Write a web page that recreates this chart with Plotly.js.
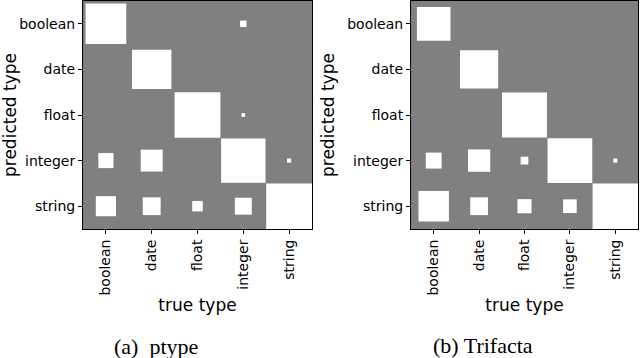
<!DOCTYPE html>
<html>
<head>
<meta charset="utf-8">
<script src="https://cdn.plot.ly/plotly-3.0.1.min.js"></script>
<style>
  html, body { margin: 0; padding: 0; background: #fff; }
  #chart { width: 640px; height: 358px; }
</style>
</head>
<body>
<div id="chart"></div>
<script>
    // type labels (rows = predicted type, columns = true type)
    var types = ['boolean', 'date', 'float', 'integer', 'string'];

    // square side as a fraction of one cell
    var ptypeSizes = [
        [0.89, 0,    0,    0.14, 0   ],
        [0,    0.86, 0,    0,    0   ],
        [0,    0,    1.0,  0.08, 0   ],
        [0.33, 0.48, 0,    0.97, 0.09],
        [0.44, 0.39, 0.23, 0.37, 1.0 ]
    ];
    var trifactaSizes = [
        [0.74, 0,    0,    0,    0   ],
        [0,    0.84, 0,    0,    0   ],
        [0,    0,    0.99, 0,    0   ],
        [0.35, 0.49, 0.17, 0.985, 0.09],
        [0.67, 0.39, 0.31, 0.30, 1.0 ]
    ];

    var captions = ['(a)\u00a0\u00a0ptype', '(b) Trifacta'];

    // Build white squares for one matrix, in data coordinates of its axes
    function hintonShapes(sizes, xref, yref) {
        var shapes = [];
        sizes.forEach(function(row, i) {
            row.forEach(function(s, j) {
                if (s <= 0) return;
                shapes.push({
                    type: 'rect', xref: xref, yref: yref, layer: 'below',
                    x0: j - s / 2, x1: j + s / 2,
                    y0: i - s / 2, y1: i + s / 2,
                    fillcolor: '#ffffff', line: { width: 0 }
                });
            });
        });
        return shapes;
    }

    var idx = types.map(function(t, i) { return i; });

    // invisible traces so both subplots own their axes
    var traces = [
        { x: idx, y: idx, xaxis: 'x', yaxis: 'y', type: 'scatter', mode: 'markers',
          marker: { opacity: 0 }, hoverinfo: 'skip', showlegend: false },
        { x: idx, y: idx, xaxis: 'x2', yaxis: 'y2', type: 'scatter', mode: 'markers',
          marker: { opacity: 0 }, hoverinfo: 'skip', showlegend: false }
    ];

    var tickFont = { family: 'DejaVu Sans', size: 14, color: '#000' };
    var titleFont = { family: 'DejaVu Sans', size: 17, color: '#000' };

    function xAxis(domain, anchor) {
        return {
            domain: domain, anchor: anchor, range: [-0.5, 4.5],
            tickvals: idx, ticktext: types, tickangle: -90,
            ticks: 'outside', ticklen: 4, tickwidth: 1, tickcolor: '#000',
            showline: true, linecolor: '#000', linewidth: 1, mirror: true,
            showgrid: false, zeroline: false, automargin: false,
            tickfont: tickFont,
            title: { text: 'true type', font: titleFont, standoff: 4 }
        };
    }
    function yAxis(domain, anchor) {
        return {
            domain: domain, anchor: anchor, range: [4.5, -0.5],
            tickvals: idx, ticktext: types,
            ticks: 'outside', ticklen: 4, tickwidth: 1, tickcolor: '#000',
            showline: true, linecolor: '#000', linewidth: 1, mirror: true,
            showgrid: false, zeroline: false, automargin: false,
            tickfont: tickFont,
            title: { text: 'predicted type', font: titleFont, standoff: 8 }
        };
    }

    var yDom = [1 - 229 / 358, 1 - 1 / 358];

    var layout = {
        width: 640, height: 358,
        margin: { t: 0, r: 0, b: 0, l: 0 },
        paper_bgcolor: '#ffffff',
        plot_bgcolor: '#808080',
        showlegend: false,
        xaxis: xAxis([83 / 640, 312 / 640], 'y'),
        yaxis: yAxis(yDom, 'x'),
        xaxis2: xAxis([411 / 640, 638 / 640], 'y2'),
        yaxis2: yAxis(yDom, 'x2'),
        shapes: hintonShapes(ptypeSizes, 'x', 'y')
            .concat(hintonShapes(trifactaSizes, 'x2', 'y2')),
        annotations: [
            { text: captions[0], xref: 'paper', yref: 'paper', x: 156 / 640, y: 1 - 346 / 358,
              xanchor: 'center', yanchor: 'middle', showarrow: false,
              font: { family: 'Liberation Serif', size: 22, color: '#000' } },
            { text: captions[1], xref: 'paper', yref: 'paper', x: 483 / 640, y: 1 - 345 / 358,
              xanchor: 'center', yanchor: 'middle', showarrow: false,
              font: { family: 'Liberation Serif', size: 22, color: '#000' } }
        ]
    };

    Plotly.newPlot('chart', traces, layout, { displayModeBar: false, staticPlot: true });
</script>
</body>
</html>
